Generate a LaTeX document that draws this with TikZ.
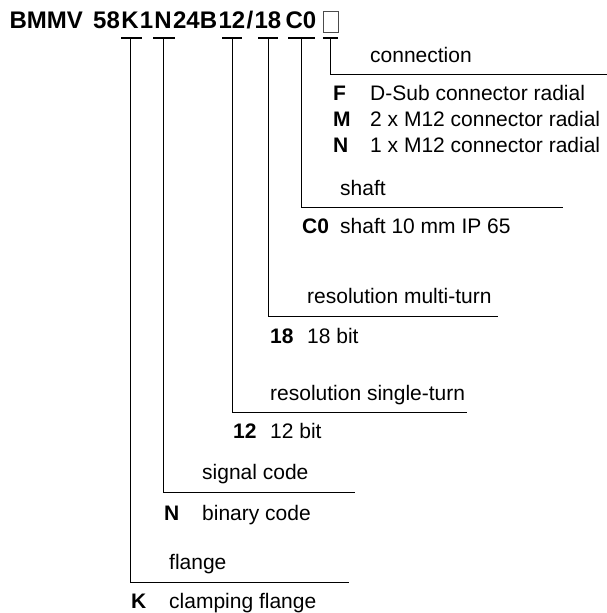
\documentclass[tikz,border=0pt]{standalone}
\usepackage{fontspec}
\setmainfont{Liberation Sans}
\usetikzlibrary{positioning, calc}

\begin{document}
\begin{tikzpicture}[
    x=1pt, y=-1pt,
    code/.style={font=\bfseries\fontsize{24}{28}\selectfont, inner sep=0pt, text height=17pt, text depth=0pt},
    slot/.style={draw=black!70, line width=0.8pt, minimum width=15pt, minimum height=21pt, inner sep=0pt},
    bar/.style={draw, line width=2.6pt},
    lead/.style={draw, line width=0.9pt},
    txt/.style={font=\fontsize{21}{26}\selectfont, inner sep=0pt, anchor=base west},
    key/.style={txt, font=\bfseries\fontsize{21}{26}\selectfont}
]
    \useasboundingbox (0,0) rectangle (607,613);

    % Type code
    \node [code] (flange) at (130,19.5) {K};
    \node [code] (signal) at (163,19.5) {N};
    \node [code] (single) at (232,19.5) {12};
    \node [code] (multi) at (268,19.5) {18};
    \node [code] (shaft) at (301,19.5) {C0};
    \node [slot, right=6pt of shaft, yshift=-2.5pt] (conn) {};
    \node [code, left=1pt of flange] (size) {58};
    \node [code, left=10pt of size] (type) {BMMV};
    \node [code] (one) at ($(flange.east)!0.5!(signal.west)$) {1};
    \node [code] (volt) at ($(signal.east)!0.5!(single.west)$) {24B};
    \node [code] (slash) at ($(single.east)!0.5!(multi.west)$) {/};

    \coordinate (barline) at (0,38);

    % Line ends
    \coordinate (connEnd) at (607,74);
    \coordinate (shaftEnd) at (563,207);
    \coordinate (multiEnd) at (498,316);
    \coordinate (singleEnd) at (467,412);
    \coordinate (signalEnd) at (355,492);
    \coordinate (flangeEnd) at (349,582);

    % Texts
    \node [txt] (connLbl) at (370,62) {connection};
    \node [key] (connF) at (333,100) {F};
    \node [txt] (connFTxt) at (370,100) {D-Sub connector radial};
    \node [key] (connM) at (333,126) {M};
    \node [txt] (connMTxt) at (370,126) {2 x M12 connector radial};
    \node [key] (connN) at (333,152) {N};
    \node [txt] (connNTxt) at (370,152) {1 x M12 connector radial};

    \node [txt] (shaftLbl) at (340,195) {shaft};
    \node [key] (shaftKey) at (302,233) {C0};
    \node [txt] (shaftTxt) at (340,233) {shaft 10 mm IP 65};

    \node [txt] (multiLbl) at (307,303) {resolution multi-turn};
    \node [key] (multiKey) at (270,343) {18};
    \node [txt] (multiTxt) at (307,343) {18 bit};

    \node [txt] (singleLbl) at (270,400) {resolution single-turn};
    \node [key] (singleKey) at (233,438) {12};
    \node [txt] (singleTxt) at (270,438) {12 bit};

    \node [txt] (signalLbl) at (202,479) {signal code};
    \node [key] (signalKey) at (164,520) {N};
    \node [txt] (signalTxt) at (202,520) {binary code};

    \node [txt] (flangeLbl) at (169,569) {flange};
    \node [key] (flangeKey) at (131,608) {K};
    \node [txt] (flangeTxt) at (169,608) {clamping flange};

    % Bars
    \draw [bar] (flange.south |- barline) ++(-9,0) -- ++(21,0);
    \draw [bar] (signal.south |- barline) ++(-10,0) -- ++(22,0);
    \draw [bar] (single.south |- barline) ++(-10,0) -- ++(20,0);
    \draw [bar] (multi.south |- barline) ++(-10,0) -- ++(20,0);
    \draw [bar] (shaft.south |- barline) ++(-13,0) -- ++(27,0);
    \draw [bar] (conn.south |- barline) ++(-7.5,0) -- ++(15,0);

    % Connections
    \path [lead] (flange.south |- barline) |- (flangeEnd);
    \path [lead] (signal.south |- barline) |- (signalEnd);
    \path [lead] (single.south |- barline) |- (singleEnd);
    \path [lead] (multi.south |- barline) |- (multiEnd);
    \path [lead] (shaft.south |- barline) |- (shaftEnd);
    \path [lead] (conn.south |- barline) |- (connEnd);

\end{tikzpicture}
\end{document}
